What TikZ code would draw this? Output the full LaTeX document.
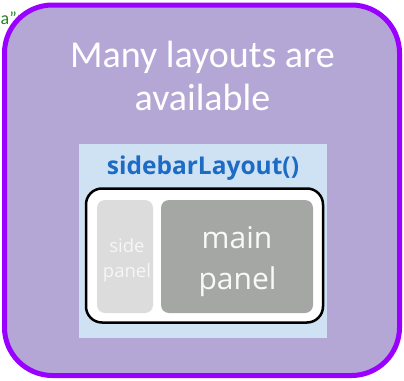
\documentclass[tikz,border=0pt]{standalone}
\usepackage{fontspec}
\setmainfont{Carlito}
\newfontfamily\osans{Open Sans}
\definecolor{lav}{HTML}{B4A7D6}
\definecolor{vio}{HTML}{9900FF}
\definecolor{lblue}{HTML}{CFE2F3}
\definecolor{tblue}{HTML}{1C6BC4}
\definecolor{sideg}{HTML}{DCDCDC}
\definecolor{maing}{HTML}{A5A7A5}
\definecolor{codegreen}{HTML}{2A7F2A}
\begin{document}
\begin{tikzpicture}[x=1pt,y=-1pt,
  title/.style={text=white,font=\fontsize{38}{44}\selectfont,anchor=base,inner sep=0},
  ptext/.style={anchor=base,inner sep=0}]
\useasboundingbox (0,0) rectangle (404,380);
\node[anchor=base west,text=codegreen,font=\fontsize{18}{20}\selectfont,inner sep=0] (frag) at (0.5,24) {a\char34>};
\draw[vio,line width=5,fill=lav,rounded corners=48] (4.5,5) rectangle (399.5,375.5);
\node[title] (t1) at (202.5,67) {Many layouts are};
\node[title] (t2) at (202.5,110) {available};
\fill[lblue] (79,144) rectangle (327,338);
\node[ptext,text=tblue,font=\osans\bfseries\fontsize{24.5}{28}\selectfont] (sl) at (203,174) {sidebarLayout()};
\draw[black,line width=2.5,fill=white,rounded corners=16] (86,188.5) rectangle (323,322.5);
\fill[sideg,rounded corners=8] (97,200) rectangle (153,313);
\fill[maing,rounded corners=8] (161,200) rectangle (313,313);
\node[ptext,text=white!93!gray,font=\osans\fontsize{18.5}{22}\selectfont] (sp1) at (127,252) {side};
\node[ptext,text=white!93!gray,font=\osans\fontsize{18.5}{22}\selectfont] (sp2) at (127,277) {panel};
\node[ptext,text=white!95!gray,font=\osans\fontsize{30}{34}\selectfont] (mp1) at (237,248) {main};
\node[ptext,text=white!95!gray,font=\osans\fontsize{30}{34}\selectfont] (mp2) at (237.5,289) {panel};
\end{tikzpicture}
\end{document}
